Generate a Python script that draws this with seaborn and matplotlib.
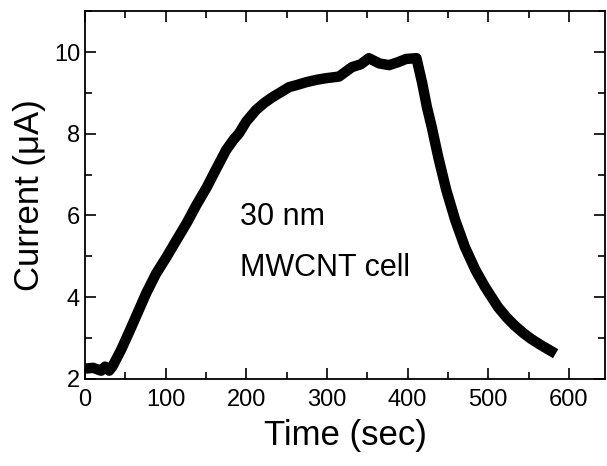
import numpy as np
import pandas as pd
import seaborn as sns
import matplotlib.pyplot as plt
from matplotlib.ticker import MultipleLocator

# current transient
time_s = [0, 10, 20, 25, 30, 34, 45, 56, 66, 76, 88, 101, 113, 126, 138, 151,
          163, 175, 184, 191, 200, 212, 222, 232, 243, 253, 264, 274, 287, 299,
          315, 331, 342, 352, 365, 377, 388, 398, 411, 418, 424, 430, 438, 448,
          459, 471, 484, 496, 512, 523, 533, 543, 553, 565, 578]
current_uA = [2.25, 2.27, 2.2, 2.3, 2.2, 2.3, 2.72, 3.2, 3.65, 4.1, 4.57, 4.98,
              5.38, 5.81, 6.25, 6.69, 7.15, 7.6, 7.85, 8.01, 8.3, 8.58, 8.75,
              8.89, 9.02, 9.14, 9.2, 9.26, 9.32, 9.36, 9.4, 9.63, 9.7, 9.85,
              9.72, 9.68, 9.75, 9.83, 9.85, 9.25, 8.65, 8.16, 7.43, 6.62, 5.89,
              5.23, 4.67, 4.25, 3.76, 3.5, 3.3, 3.13, 2.98, 2.83, 2.68]

df = pd.DataFrame({'t': time_s, 'I': current_uA})

sns.set_style('ticks')
plt.rcParams['font.family'] = ['Liberation Sans', 'DejaVu Sans']
plt.rcParams['text.color'] = 'black'
plt.rcParams['axes.labelcolor'] = 'black'

fig = plt.figure(figsize=(6.07, 4.66), dpi=100)
ax = fig.add_axes([0.14, 0.187, 0.857, 0.789])

sns.lineplot(data=df, x='t', y='I', ax=ax, color='black', linewidth=7.5,
             solid_capstyle='projecting', solid_joinstyle='round', sort=False)

ax.set_xlim(0, 645)
ax.set_ylim(2, 11)
ax.xaxis.set_major_locator(MultipleLocator(100))
ax.xaxis.set_minor_locator(MultipleLocator(50))
ax.yaxis.set_major_locator(MultipleLocator(2))
ax.yaxis.set_minor_locator(MultipleLocator(1))
ax.tick_params(which='both', direction='in', top=True, right=True, width=1.2,
               labelsize=17, colors='black')
ax.tick_params(axis='x', which='major', pad=7)
ax.tick_params(which='major', length=8)
ax.tick_params(which='minor', length=5)
for s in ax.spines.values():
    s.set_linewidth(1.3)
    s.set_color('black')

ax.set_xlabel('Time (sec)', fontsize=25, labelpad=6)
ax.set_ylabel('Current (\u03bcA)', fontsize=25, labelpad=6)

ax.text(192, 5.95, '30 nm', fontsize=22, va='center', ha='left')
ax.text(192, 4.72, 'MWCNT cell', fontsize=22, va='center', ha='left')

fig.savefig('out.png', dpi=100)
